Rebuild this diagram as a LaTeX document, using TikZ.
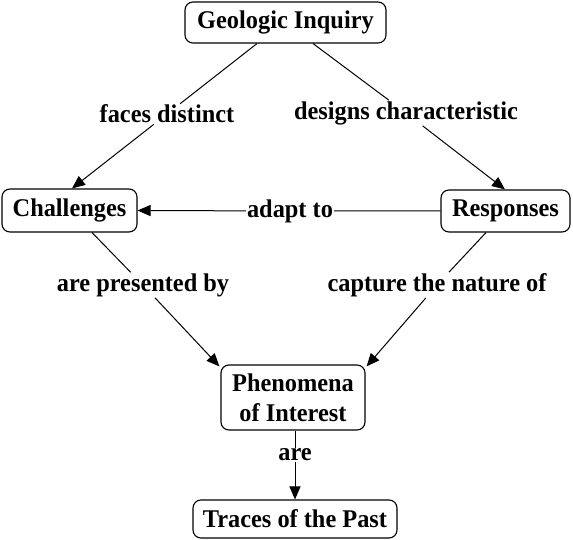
\documentclass[tikz,border=0pt]{standalone}
\usepackage{fontspec}
\setmainfont{Liberation Serif}[FakeStretch=0.955]
\usetikzlibrary{arrows.meta}
\begin{document}
\begin{tikzpicture}[x=1pt,y=-1pt,
  concept/.style={draw=black, line width=1.1pt, rounded corners=8pt, fill=white,
    inner sep=0pt, align=center, font=\fontsize{25.5}{30}\selectfont\bfseries},
  lbl/.style={fill=white, inner sep=1pt, font=\fontsize{25.5}{30}\selectfont\bfseries},
  arr/.style={draw=black, line width=1pt, -{Triangle[length=13pt,width=11pt]}}]
\useasboundingbox (0,0) rectangle (573,540);
\node[concept, minimum width=201pt, minimum height=41pt] (gi) at (285.5,22.5) {Geologic Inquiry};
\node[concept, minimum width=135pt, minimum height=43pt] (ch) at (69.5,210.5) {Challenges};
\node[concept, minimum width=129pt, minimum height=42pt] (re) at (505.5,211) {Responses};
\node[concept, minimum width=144pt, minimum height=65pt] (ph) at (293,397.5) {Phenomena\\of Interest};
\node[concept, minimum width=204pt, minimum height=38pt] (tr) at (295,519) {Traces of the Past};

\node[lbl] (l1) at (167,114) {faces distinct};
\node[lbl] (l2) at (406,113) {designs characteristic};
\node[lbl] (l3) at (290,211) {adapt to};
\node[lbl] (l4) at (143,285) {are presented by};
\node[lbl] (l5) at (437,285) {capture the nature of};
\node[lbl] (l6) at (295,455) {are};

\coordinate (a1) at ([xshift=-28.5pt]gi.south);
\coordinate (b1) at ([xshift=2.5pt]ch.north);
\coordinate (a2) at ([xshift=27.5pt]gi.south);
\coordinate (b2) at ([xshift=-0.5pt]re.north);
\coordinate (a4) at ([xshift=22.5pt]ch.south);
\coordinate (b4) at ([xshift=-1pt,yshift=-2pt]ph.north west);
\coordinate (a5) at ([xshift=-19.5pt]re.south);
\coordinate (b5) at ([xshift=1pt,yshift=-2pt]ph.north east);
\coordinate (a6) at ([xshift=2pt]ph.south);
\coordinate (b6) at ([xshift=0pt]tr.north);

\draw[arr] (a1) -- (l1) -- (b1);
\draw[arr] (a2) -- (l2) -- (b2);
\draw[arr] (re.west) -- (l3) -- (ch.east);
\draw[arr] (a4) -- (l4) -- (b4);
\draw[arr] (a5) -- (l5) -- (b5);
\draw[arr] (a6) -- (l6) -- (b6);
\end{tikzpicture}
\end{document}
